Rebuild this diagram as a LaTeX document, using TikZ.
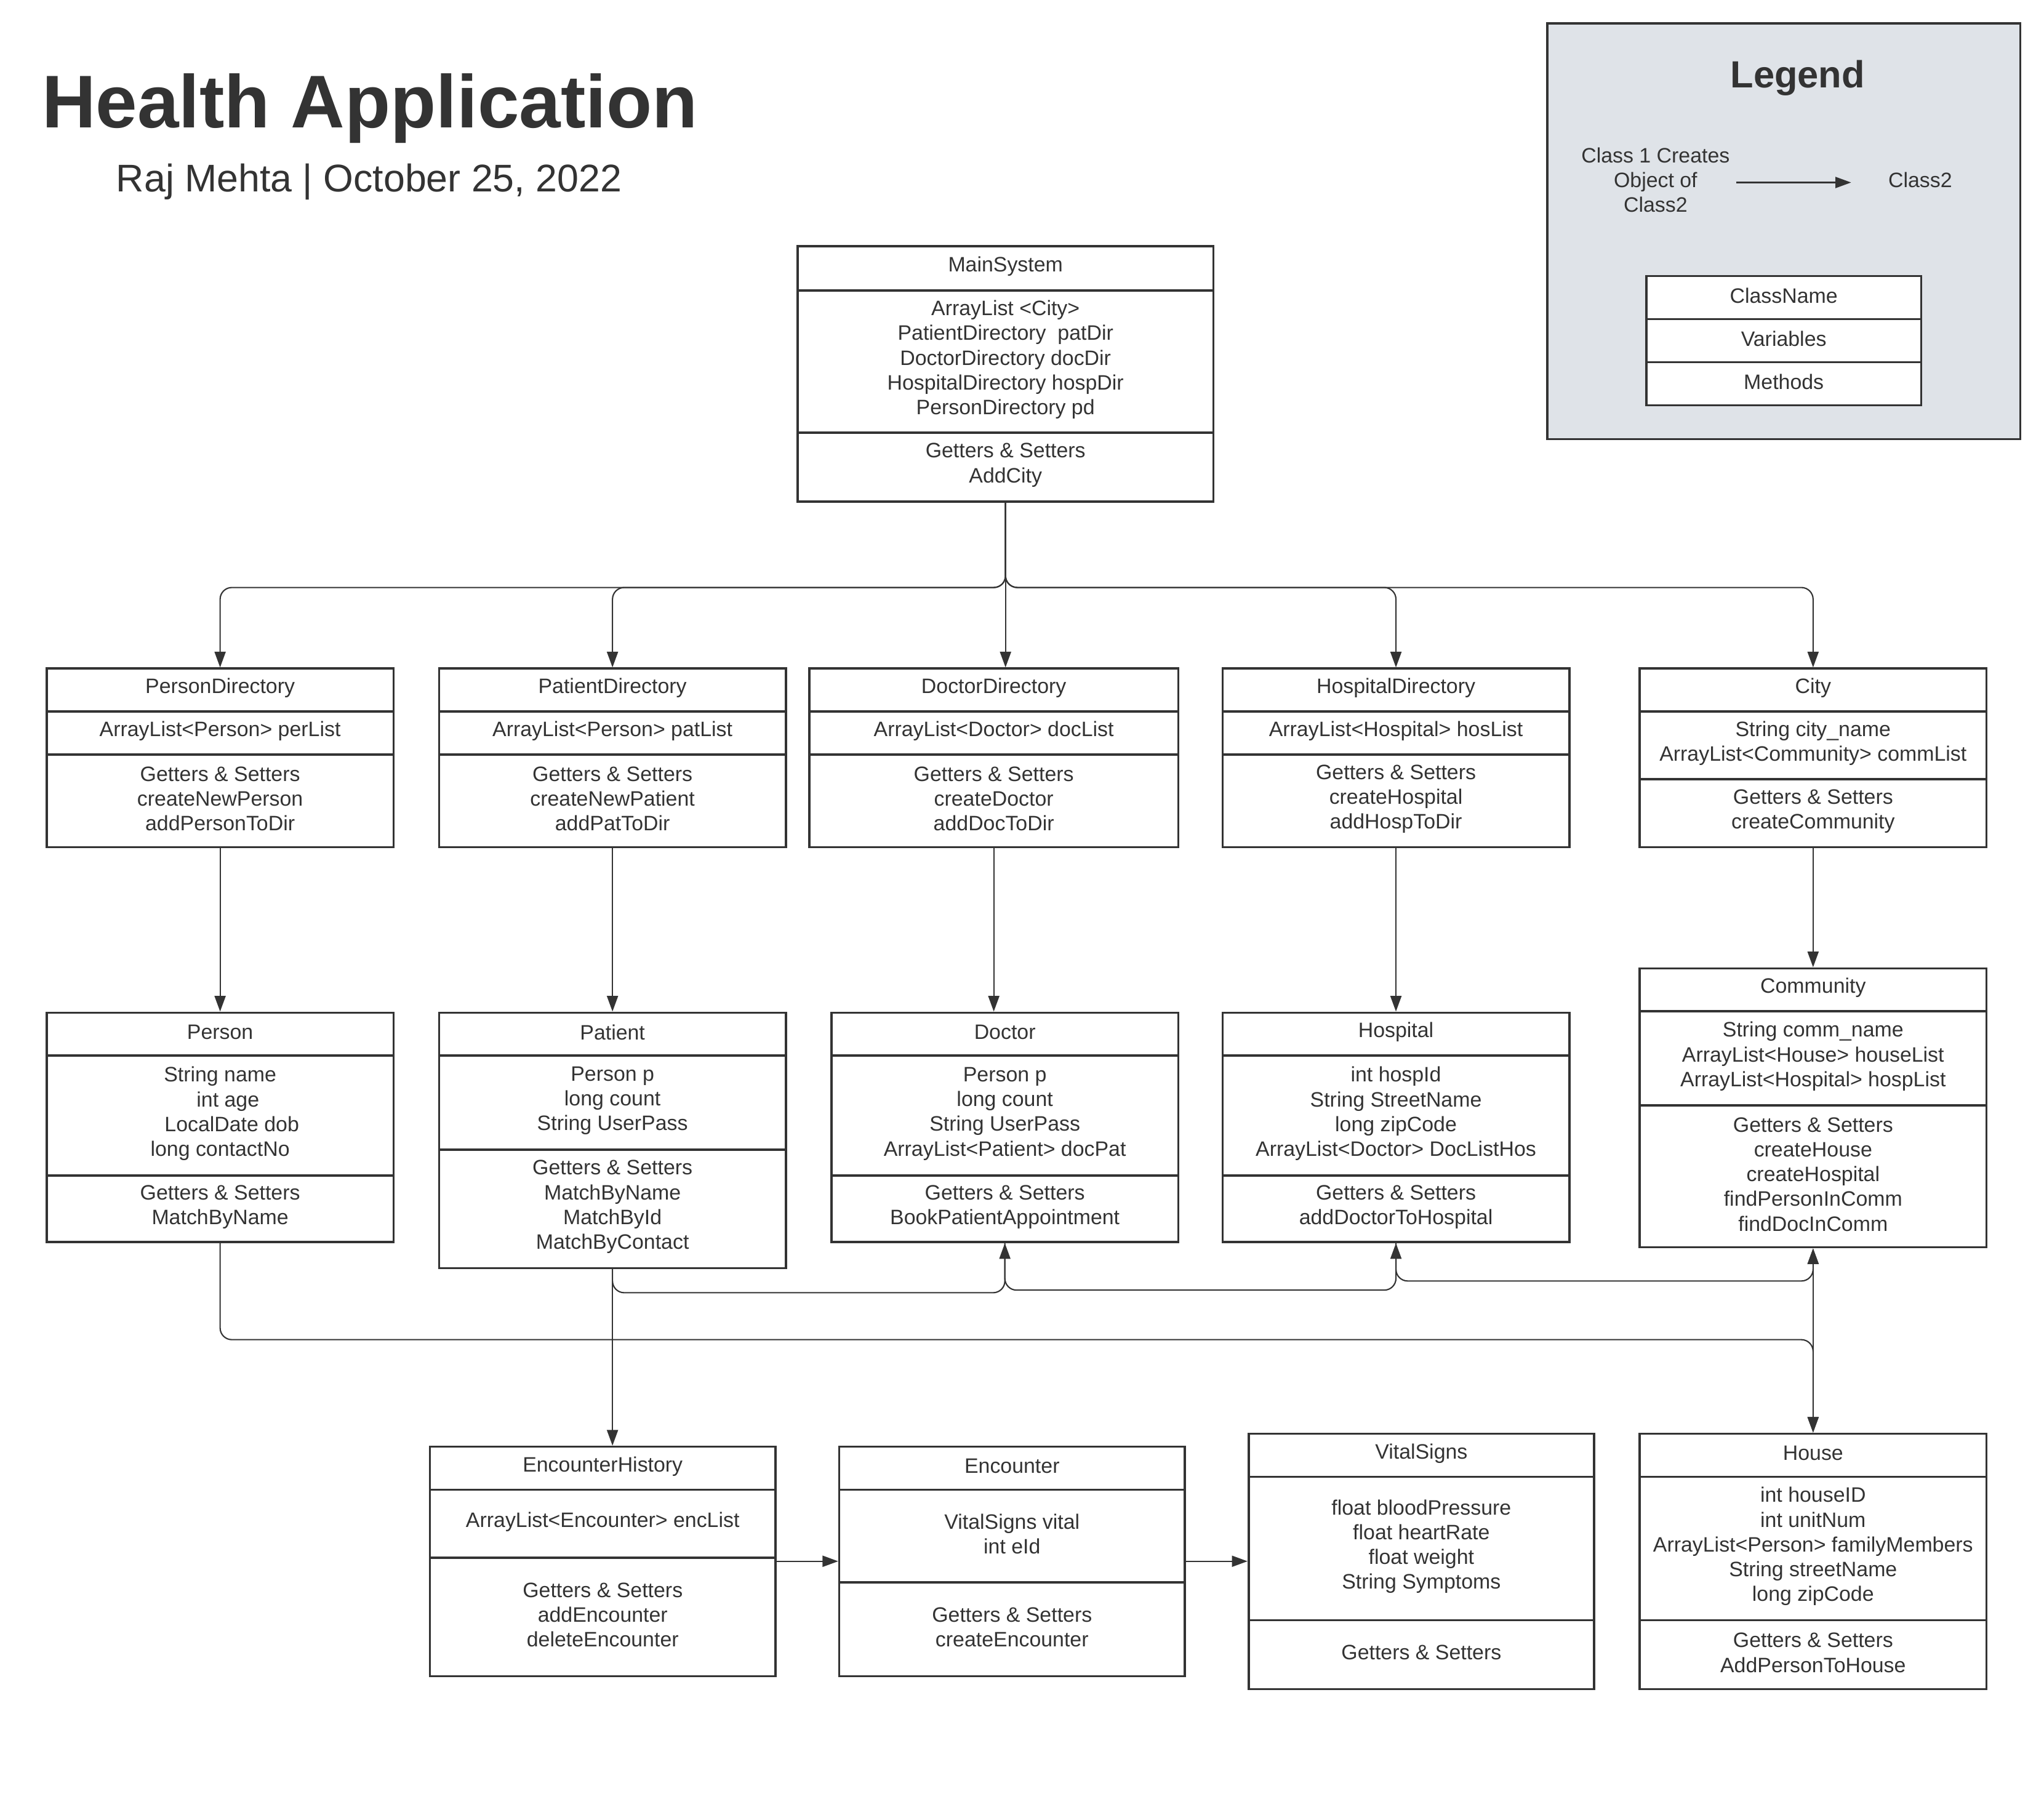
\documentclass[tikz,border=0pt]{standalone}
\usepackage{fontspec}
\setmainfont{Liberation Sans}
\usetikzlibrary{arrows.meta,calc}
\definecolor{ink}{HTML}{333333}
\definecolor{legfill}{HTML}{DFE3E8}
\tikzset{
  comp/.style={draw=ink, line width=1.7pt, fill=white, inner sep=0pt, anchor=north west},
  conn/.style={draw=ink, line width=1pt, rounded corners=9pt, -{Triangle[length=12pt,width=8.5pt]}},
  lbl/.style={text=ink, align=center, inner sep=0pt, font=\fontsize{16}{19}\selectfont},
  clbl/.style={lbl, yshift=1.5pt},
}
\newcommand\umlbox[9]{\def\ubN{#1}\def\ubL{#2}\def\ubR{#3}\def\ubT{#4}\def\ubA{#5}\def\ubB{#6}\def\ubE{#7}\def\ubH{#8}\def\ubV{#9}\umlboxB}
\newcommand\umlboxB[1]{%
  \node[comp, minimum width={(\ubR-\ubL)*1pt}, minimum height={(\ubA-\ubT)*1pt}] (\ubN-h) at (\ubL,\ubT) {};
  \node[comp, minimum width={(\ubR-\ubL)*1pt}, minimum height={(\ubB-\ubA)*1pt}] (\ubN-v) at (\ubL,\ubA) {};
  \node[comp, minimum width={(\ubR-\ubL)*1pt}, minimum height={(\ubE-\ubB)*1pt}] (\ubN-m) at (\ubL,\ubB) {};
  \node[clbl] (\ubN-ht) at (\ubN-h.center) {\ubH};
  \node[clbl] (\ubN-vt) at (\ubN-v.center) {\ubV};
  \node[clbl] (\ubN-mt) at (\ubN-m.center) {#1};
}
\begin{document}
\begin{tikzpicture}[x=1pt,y=-1pt]
\useasboundingbox[fill=white] (0,0) rectangle (1568,1380);

% Title
\node[text=ink, anchor=base west, inner sep=0pt, font=\fontsize{57.3}{60}\selectfont\bfseries] (title) at (32,98) {Health Application};
\node[text=ink, anchor=base west, inner sep=0pt, font=\fontsize{29.6}{32}\selectfont] (subtitle) at (89,147) {Raj Mehta | October 25, 2022};

% Legend
\node[draw=ink, line width=1.7pt, fill=legfill, anchor=north west, minimum width=363pt, minimum height=319pt, inner sep=0pt] (legend) at (1186,17) {};
\node[text=ink, anchor=base, inner sep=0pt, font=\fontsize{29}{32}\selectfont\bfseries] (legtitle) at (1379,67.5) {Legend};
\node[lbl] (lega) at (1270,138) {Class 1 Creates\\Object of\\Class2};
\node[lbl] (legb) at (1473,138) {Class2};
\coordinate (la) at (1332,140);
\coordinate (lb) at (1420,140);
\draw[conn] (la) -- (lb);
\umlbox{lg}{1262}{1473}{211}{244}{277}{310}{ClassName}{Variables}{Methods}

% Classes
\umlbox{ms}{611}{930}{188}{222}{331}{384}{MainSystem}{ArrayList <City>\\PatientDirectory \ patDir\\DoctorDirectory docDir\\HospitalDirectory hospDir\\PersonDirectory pd}{Getters \& Setters\\AddCity}

\umlbox{pd}{35}{301}{512}{545}{578}{649}{PersonDirectory}{ArrayList<Person> perList}{Getters \& Setters\\createNewPerson\\addPersonToDir}
\umlbox{ptd}{336}{602}{512}{545}{578}{649}{PatientDirectory}{ArrayList<Person> patList}{Getters \& Setters\\createNewPatient\\addPatToDir}
\umlbox{dd}{620}{903}{512}{545}{578}{649}{DoctorDirectory}{ArrayList<Doctor> docList}{Getters \& Setters\\createDoctor\\addDocToDir}
\umlbox{hd}{937}{1203}{512}{545}{578}{649}{HospitalDirectory}{ArrayList<Hospital> hosList}{Getters \& Setters\\createHospital\\addHospToDir}
\umlbox{ci}{1257}{1523}{512}{545}{597}{649}{City}{String city\_name\\ArrayList<Community> commList}{Getters \& Setters\\createCommunity}

\umlbox{pe}{35}{301}{776}{809}{901}{952}{Person}{String name\\\hspace*{12pt}int age\\\hspace*{18pt}LocalDate dob\\long contactNo}{Getters \& Setters\\MatchByName}
\umlbox{pa}{336}{602}{776}{809}{881}{972}{Patient}{Person p\\long count\\String UserPass}{Getters \& Setters\\MatchByName\\MatchById\\MatchByContact}
\umlbox{do}{637}{903}{776}{809}{901}{952}{Doctor}{Person p\\long count\\String UserPass\\ArrayList<Patient> docPat}{Getters \& Setters\\BookPatientAppointment}
\umlbox{ho}{937}{1203}{776}{809}{901}{952}{Hospital}{int hospId\\String StreetName\\long zipCode\\ArrayList<Doctor> DocListHos}{Getters \& Setters\\addDoctorToHospital}
\umlbox{co}{1257}{1523}{742}{775}{847}{956}{Community}{String comm\_name\\ArrayList<House> houseList\\ArrayList<Hospital> hospList}{Getters \& Setters\\createHouse\\createHospital\\findPersonInComm\\findDocInComm}

\umlbox{eh}{329}{594}{1109}{1142}{1194}{1285}{EncounterHistory}{ArrayList<Encounter> encList}{Getters \& Setters\\addEncounter\\deleteEncounter}
\umlbox{en}{643}{908}{1109}{1142}{1213}{1285}{Encounter}{VitalSigns vital\\int eId}{Getters \& Setters\\createEncounter}
\umlbox{vs}{957}{1222}{1099}{1132}{1242}{1295}{VitalSigns}{float bloodPressure\\float heartRate\\float weight\\String Symptoms}{Getters \& Setters}
\umlbox{hs}{1257}{1523}{1099}{1132}{1242}{1295}{House}{int houseID\\int unitNum\\ArrayList<Person> familyMembers\\String streetName\\long zipCode}{Getters \& Setters\\AddPersonToHouse}

% Connectors from MainSystem
\draw[conn] (ms-m.south) -- ++(0,65) -| (pd-h.north);
\draw[conn] (ms-m.south) -- ++(0,65) -| (ptd-h.north);
\draw[conn] (ms-m.south) -- (ms-m.south |- dd-h.north);
\draw[conn] (ms-m.south) -- ++(0,65) -| (hd-h.north);
\draw[conn] (ms-m.south) -- ++(0,65) -| (ci-h.north);

% Directories to classes
\draw[conn] (pd-m.south) -- (pe-h.north);
\draw[conn] (ptd-m.south) -- (pa-h.north);
\draw[conn] (dd-m.south) -- (dd-m.south |- do-h.north);
\draw[conn] (hd-m.south) -- (ho-h.north);
\draw[conn] (ci-m.south) -- (co-h.north);

% Lower connectors
\draw[conn] (pa-m.south) -- (pa-m.south |- eh-h.north);
\draw[conn] (pa-m.south) -- ++(0,18) -| (do-m.south);
\draw[conn] (do-m.south) -- ++(0,36) -| (ho-m.south);
\draw[conn] (ho-m.south) -- ++(0,29) -| (co-m.south);
\draw[conn] (pe-m.south) -- ++(0,74) -| (hs-h.north);
\draw[conn, {Triangle[length=12pt,width=8.5pt]}-{Triangle[length=12pt,width=8.5pt]}] (co-m.south) -- (hs-h.north);

\draw[conn] (eh-v.south east) ++(0,2) coordinate (ehout) -- (ehout -| en-v.west);
\draw[conn] (ehout -| en-v.east) -- (ehout -| vs-v.west);
\end{tikzpicture}
\end{document}
